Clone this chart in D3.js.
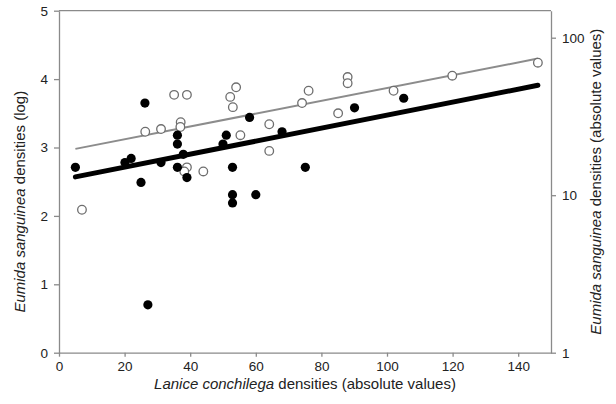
<!DOCTYPE html>
<html>
<head>
<meta charset="utf-8">
<script src="https://cdn.jsdelivr.net/npm/d3@7"></script>
<style>
  body { margin: 0; background: #fff; }
  svg { font-family: "Liberation Sans", Arial, sans-serif; }
</style>
</head>
<body>
<svg width="616" height="404"></svg>
<script>
// Lanice conchilega density (x) vs Eumida sanguinea density (ln)
const filledX = [5, 20.1, 22, 26.2, 25, 27.1, 31.1, 36.1, 36.1, 36.1, 37.9, 39, 50, 51, 52.9, 52.9, 52.9, 58.1, 60, 68, 75.1, 90.1, 105.1];
const filledY = [2.71, 2.78, 2.84, 3.65, 2.49, 0.7, 2.78, 3.18, 3.05, 2.71, 2.9, 2.56, 3.05, 3.18, 2.71, 2.31, 2.19, 3.44, 2.31, 3.23, 2.71, 3.58, 3.72];

const openX = [7, 26.3, 31.1, 35.1, 39, 37.1, 37, 39, 38.2, 44, 52.2, 54, 53, 55.3, 64.1, 64.1, 74.1, 76.1, 85.1, 88, 88, 102, 119.9, 146];
const openY = [2.09, 3.23, 3.27, 3.77, 3.77, 3.37, 3.3, 2.71, 2.65, 2.65, 3.74, 3.88, 3.59, 3.18, 3.34, 2.95, 3.65, 3.83, 3.5, 4.03, 3.94, 3.83, 4.05, 4.24];

// fitted lines, read at their ends
const fitX = [5, 146];
const filledFit = [2.57, 3.91];
const openFit = [2.98, 4.3];

const xTicks = [0, 20, 40, 60, 80, 100, 120, 140];
const yTicks = [0, 1, 2, 3, 4, 5];
const rightTicks = [1, 10, 100];

const svg = d3.select("svg");
const plot = {left: 59, right: 551, top: 10.7, bottom: 352.7};
const axisColor = "#8a8a8a";

const x = d3.scaleLinear().domain([0, 150]).range([plot.left, plot.right]);
const y = d3.scaleLinear().domain([0, 5]).range([plot.bottom, plot.top]);
const yR = d3.scaleLog().domain([1, Math.exp(5)]).range([plot.bottom, plot.top]);

// top border
svg.append("line")
  .attr("x1", plot.left).attr("x2", plot.right)
  .attr("y1", plot.top).attr("y2", plot.top)
  .attr("stroke", axisColor).attr("stroke-width", 1.3);

function styleAxis(g) {
  g.selectAll("path, line").attr("stroke", axisColor).attr("stroke-width", 1.3);
  g.selectAll("text").attr("fill", "#222").style("font-size", "13.5px");
}

svg.append("g")
  .attr("transform", `translate(0,${plot.bottom})`)
  .call(d3.axisBottom(x).tickValues(xTicks).tickSize(4).tickSizeOuter(0).tickPadding(5))
  .call(styleAxis);

svg.append("g")
  .attr("transform", `translate(${plot.left},0)`)
  .call(d3.axisLeft(y).tickValues(yTicks).tickFormat(d3.format("d")).tickSize(5).tickSizeOuter(0).tickPadding(6))
  .call(styleAxis);

svg.append("g")
  .attr("transform", `translate(${plot.right},0)`)
  .call(d3.axisRight(yR).tickValues(rightTicks).tickFormat(d3.format("d")).tickSize(5).tickSizeOuter(0).tickPadding(6))
  .call(styleAxis);

// regression lines
const line = d3.line().x(d => x(d[0])).y(d => y(d[1]));

svg.append("path")
  .datum(fitX.map((v, i) => [v, openFit[i]]))
  .attr("d", line)
  .attr("fill", "none")
  .attr("stroke", "#8c8c8c")
  .attr("stroke-width", 2);

svg.append("path")
  .datum(fitX.map((v, i) => [v, filledFit[i]]))
  .attr("d", line)
  .attr("fill", "none")
  .attr("stroke", "#000")
  .attr("stroke-width", 5)
  .attr("stroke-linecap", "round");

// points
svg.append("g").selectAll("circle")
  .data(openX.map((v, i) => [v, openY[i]]))
  .join("circle")
  .attr("cx", d => x(d[0]))
  .attr("cy", d => y(d[1]))
  .attr("r", 4.3)
  .attr("fill", "#fff")
  .attr("stroke", "#6e6e6e")
  .attr("stroke-width", 1.3);

svg.append("g").selectAll("circle")
  .data(filledX.map((v, i) => [v, filledY[i]]))
  .join("circle")
  .attr("cx", d => x(d[0]))
  .attr("cy", d => y(d[1]))
  .attr("r", 4.6)
  .attr("fill", "#000");

// axis titles
const xt = svg.append("text")
  .attr("x", (plot.left + plot.right) / 2)
  .attr("y", 389)
  .attr("text-anchor", "middle")
  .style("font-size", "15px")
  .attr("fill", "#222");
xt.append("tspan").style("font-style", "italic").text("Lanice conchilega");
xt.append("tspan").text(" densities (absolute values)");

const yt = svg.append("text")
  .attr("transform", `translate(25,${(plot.top + plot.bottom) / 2 + 20}) rotate(-90)`)
  .attr("text-anchor", "middle")
  .style("font-size", "15px")
  .attr("fill", "#222");
yt.append("tspan").style("font-style", "italic").text("Eumida sanguinea");
yt.append("tspan").text(" densities (log)");

const yrt = svg.append("text")
  .attr("transform", `translate(601,${(plot.top + plot.bottom) / 2}) rotate(-90)`)
  .attr("text-anchor", "middle")
  .style("font-size", "15px")
  .attr("fill", "#222");
yrt.append("tspan").style("font-style", "italic").text("Eumida sanguinea");
yrt.append("tspan").text(" densities (absolute values)");
</script>
</body>
</html>
